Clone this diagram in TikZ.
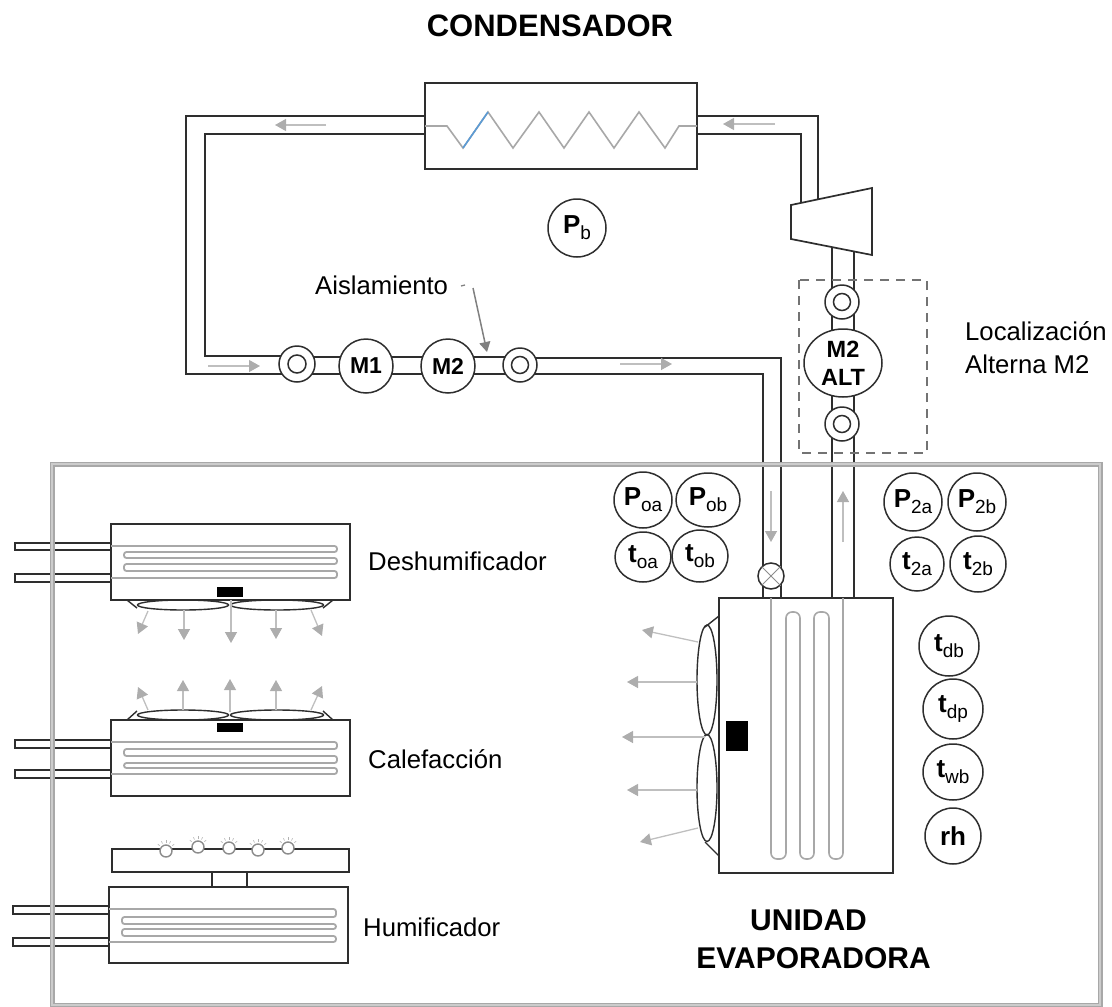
\documentclass[tikz,border=0pt]{standalone}
\usepackage{fontspec}
\setmainfont{Liberation Sans}
\usetikzlibrary{arrows.meta,shapes.geometric}
\definecolor{ink}{gray}{0.18}
\definecolor{pale}{gray}{0.66}
\definecolor{tip}{gray}{0.68}
\definecolor{bluecoil}{RGB}{91,155,213}
\newcommand{\lab}[2]{{\fontsize{26}{26}\selectfont\bfseries #1}\raisebox{-6pt}{\fontsize{19}{19}\selectfont #2}}
\newcommand{\hcoil}[9]{\draw[coil,rounded corners=2.5pt] (#1,#4)--(#3,#4)--(#3,#5)--(#2,#5)--(#2,#6)--(#3,#6)--(#3,#7)--(#2,#7)--(#2,#8)--(#3,#8)--(#3,#9)--(#1,#9);}
\newcommand{\stub}[4]{\draw[ln] (#3,#1)--(#2,#1)--(#2,#4)--(#3,#4);}
\tikzset{
  ln/.style={draw=ink,line width=1.7pt,line join=miter},
  coil/.style={draw=pale,line width=1.8pt},
  flow/.style={draw=gray!50,line width=1.3pt,-{Triangle[length=11pt,width=12pt,color=tip]}},
  blockbox/.style={ln,fill=white},
  instr/.style={circle,draw=ink,line width=1.5pt,fill=white,inner sep=0pt},
  oval/.style={ellipse,draw=ink,line width=1.5pt,fill=white,inner sep=0pt},
  ringo/.style={circle,draw=ink,line width=1.5pt,fill=white,inner sep=0pt},
  fan/.style={ellipse,draw=ink,line width=1.4pt,inner sep=0pt},
  txt/.style={inner sep=0pt,font=\fontsize{25.7}{25.7}\selectfont,anchor=base west},
  head/.style={inner sep=0pt,font=\fontsize{30}{30}\selectfont\bfseries}
}
\begin{document}
\begin{tikzpicture}[x=1pt,y=-1pt]
\useasboundingbox (0,0) rectangle (1112,1007);
% piping
\draw[ln] (425,116)--(186,116)--(186,374)--(297,374);
\draw[ln] (425,134)--(205,134)--(205,356)--(297,356);
\draw[ln] (697,116)--(818,116)--(818,199);
\draw[ln] (697,134)--(801,134)--(801,203);
\draw[ln] (297,357)--(520,357);
\draw[ln] (297,374)--(520,374);
\draw[ln] (520,358)--(781,358)--(781,598);
\draw[ln] (520,374)--(763,374)--(763,598);
\draw[ln] (832,245)--(832,598);
\draw[ln] (854,245)--(854,598);
% stubs
\stub{543}{15}{111}{550}
\stub{574}{15}{111}{582}
\stub{740}{15}{111}{748}
\stub{770}{15}{111}{778}
\stub{906}{13}{109}{914}
\stub{938}{13}{109}{946}
% room
\draw[draw=pale,line width=5pt] (52,464)--(1100,464)--(1100,1005)--(52,1005)--cycle;
\draw[draw=gray!40,line width=1.4pt] (52,464)--(1100,464)--(1100,1005)--(52,1005)--cycle;
% dashed frame
\draw[draw=black!55,line width=1.6pt,dash pattern=on 9pt off 7pt] (799,280) rectangle (927,453);
% condenser
\draw[blockbox] (425,83) rectangle (697,169);
\draw[coil,line width=1.6pt] (425,126)--(447,126)--(463,148)--(488,112)--(513,148)--(539,112)--(564,148)--(589,112)--(614,148)--(639,112)--(665,148)--(679,126)--(697,126);
\draw[draw=bluecoil,line width=1.6pt] (463,148)--(488,112);
\node[inner sep=0pt,font=\fontsize{31}{31}\selectfont\bfseries,anchor=base] (condtitle) at (550,36) {CONDENSADOR};
% compressor
\draw[blockbox,line join=miter] (791,205)--(872,188)--(872,255)--(791,239)--cycle;
% flow arrows
\coordinate (f1a) at (326,125); \coordinate (f1b) at (275,125);
\coordinate (f2a) at (775,124); \coordinate (f2b) at (723,124);
\coordinate (f3a) at (208,366); \coordinate (f3b) at (260,366);
\coordinate (f4a) at (620,364); \coordinate (f4b) at (672,364);
\coordinate (f5a) at (771,491); \coordinate (f5b) at (771,542);
\coordinate (f6a) at (843,542); \coordinate (f6b) at (843,491);
\foreach \i in {1,...,6} \draw[flow] (f\i a)--(f\i b);
% inline items
\node[ringo,minimum size=36pt] (v1) at (297,364) {};
\node[ringo,minimum size=18pt] (v1i) at (297,364) {};
\node[instr,minimum size=54pt,font=\fontsize{23}{23}\selectfont\bfseries] (m1) at (366,366) {M1};
\node[instr,minimum size=54pt,font=\fontsize{23}{23}\selectfont\bfseries] (m2) at (448,366) {M2};
\node[ringo,minimum size=34pt] (v2) at (520,365) {};
\node[ringo,minimum size=17pt] (v2i) at (520,365) {};
\node[ringo,minimum size=34pt] (v3) at (842,302) {};
\node[ringo,minimum size=17pt] (v3i) at (842,302) {};
\node[ringo,minimum size=34pt] (v4) at (842,424) {};
\node[ringo,minimum size=17pt] (v4i) at (842,424) {};
\node[oval,minimum width=78pt,minimum height=68pt,align=center,font=\fontsize{23.5}{28}\selectfont\bfseries] (m2alt) at (843,363) {M2\\ALT};
% Aislamiento
\node[txt] (ais) at (315,294) {Aislamiento};
\coordinate (aisdash) at (461,286); \coordinate (aisdashb) at (465,285);
\draw[draw=black!50,line width=1.3pt] (aisdash)--(aisdashb);
\coordinate (aisa) at (473,288); \coordinate (aisb) at (487,352);
\draw[draw=black!50,line width=1.5pt,-{Triangle[length=10pt,width=11pt,color=black!50]}] (aisa)--(aisb);
\node[txt] (loc1) at (965,340) {Localización};
\node[txt] (loc2) at (965,373) {Alterna M2};
% instruments
\node[instr,minimum size=58pt] (pb) at (577,228) {\lab{P}{b}};
\node[oval,minimum width=58pt,minimum height=56pt] (poa) at (643,500) {\lab{P}{oa}};
\node[oval,minimum width=64pt,minimum height=54pt] (pob) at (708,500) {\lab{P}{ob}};
\node[oval,minimum width=56pt,minimum height=50pt] (toa) at (643,557) {\lab{t}{oa}};
\node[oval,minimum width=56pt,minimum height=52pt] (tob) at (700,556) {\lab{t}{ob}};
\node[instr,minimum size=58pt] (p2a) at (913,502) {\lab{P}{2a}};
\node[instr,minimum size=58pt] (p2b) at (977,502) {\lab{P}{2b}};
\node[instr,minimum size=54pt] (t2a) at (917,564) {\lab{t}{2a}};
\node[instr,minimum size=56pt] (t2b) at (978,564) {\lab{t}{2b}};
\node[instr,minimum size=60pt] (tdb) at (949,646) {\lab{t}{db}};
\node[instr,minimum size=60pt] (tdp) at (953,709) {\lab{t}{dp}};
\node[oval,minimum width=60pt,minimum height=56pt] (twb) at (953,772) {\lab{t}{wb}};
\node[instr,minimum size=56pt,font=\fontsize{26}{26}\selectfont\bfseries] (rh) at (953,836) {rh};
% expansion valve
\node[instr,minimum size=26pt] (xv) at (771,576) {};
\draw[draw=black!45,line width=1pt] (xv.45)--(xv.225) (xv.135)--(xv.315);
% evaporator
\draw[blockbox] (719,598) rectangle (893,873);
\draw[coil,line width=1.6pt,rounded corners=6pt] (771,598)--(771,859)--(786,859)--(786,612)--(800,612)--(800,859)--(814,859)--(814,612)--(829,612)--(829,859)--(843,859)--(843,598);
\fill[black] (726,721) rectangle (748,751);
\node[fan,minimum width=20pt,minimum height=110pt] (ef1) at (707,680) {};
\node[fan,minimum width=20pt,minimum height=107pt] (ef2) at (707,788) {};
\draw[ln,line width=1.4pt] (719,616)--(705,627) (719,856)--(705,842);
\foreach \n/\a/\b/\c/\d in {1/698/642/642/630,2/697/682/627/682,3/705/737/622/737,4/697/790/627/790,5/698/828/640/842}{
  \coordinate (ea\n) at (\a,\b); \coordinate (eb\n) at (\c,\d);
  \draw[flow] (ea\n)--(eb\n);
}
\node[head,anchor=base west] (un1) at (750,930) {UNIDAD};
\node[head,anchor=base east] (un2) at (931,968) {EVAPORADORA};
% dehumidifier
\draw[blockbox] (111,524) rectangle (350,600);
\hcoil{111}{124}{337}{546}{552}{558}{564}{571}{578}
\fill[black] (217,587) rectangle (243,597);
\node[fan,minimum width=91pt,minimum height=10pt] (df1) at (183,605) {};
\node[fan,minimum width=93pt,minimum height=10pt] (df2) at (277,605) {};
\draw[ln,line width=1.4pt] (127,600)--(137,608) (333,600)--(323,608);
\foreach \n/\a/\b/\c/\d in {1/148/611/138/634,2/184/610/184/640,3/231/600/231/643,4/276/610/276/639,5/311/610/322/636}{
  \coordinate (da\n) at (\a,\b); \coordinate (db\n) at (\c,\d);
  \draw[flow] (da\n)--(db\n);
}
\node[txt] (deh) at (368,570) {Deshumificador};
% heater
\draw[blockbox] (111,720) rectangle (350,796);
\hcoil{111}{124}{337}{742}{749}{756}{763}{768}{774}
\fill[black] (217,723) rectangle (243,732);
\node[fan,minimum width=91pt,minimum height=10pt] (hf1) at (183,715) {};
\node[fan,minimum width=93pt,minimum height=10pt] (hf2) at (277,715) {};
\draw[ln,line width=1.4pt] (127,720)--(137,711) (333,720)--(323,711);
\foreach \n/\a/\b/\c/\d in {1/148/710/138/687,2/183/710/183/680,3/230/712/230/679,4/276/710/276/680,5/311/710/322/686}{
  \coordinate (ha\n) at (\a,\b); \coordinate (hb\n) at (\c,\d);
  \draw[flow] (ha\n)--(hb\n);
}
\node[txt] (cal) at (368,768) {Calefacción};
% humidifier
\draw[blockbox] (212,870) rectangle (247,888);
\draw[blockbox] (112,849) rectangle (349,872);
\draw[blockbox] (109,887) rectangle (348,963);
\hcoil{109}{122}{336}{909}{917}{924}{929}{936}{942}
\foreach \n/\a/\b in {1/166/851,2/198/847,3/229/848,4/258/850,5/288/848}{
  \node[circle,draw=black!45,line width=1.4pt,fill=white,minimum size=12pt,inner sep=0pt] (noz\n) at (\a,\b) {};
  \foreach \ang in {40,65,90,115,140}
    \draw[draw=black!30,line width=.6pt] (noz\n.\ang) ++(\ang:1.5pt) -- ++(\ang:2.5pt);
}
\node[txt] (hum) at (363,936) {Humificador};
\end{tikzpicture}
\end{document}
